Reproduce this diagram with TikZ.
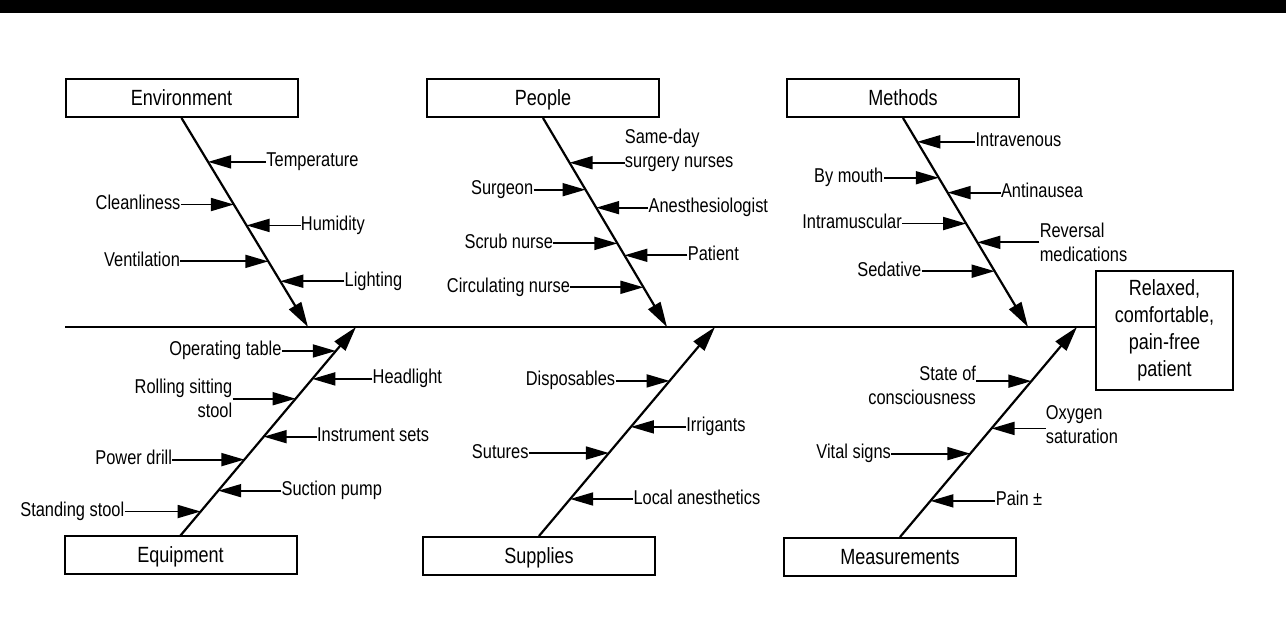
\documentclass[tikz,border=0pt]{standalone}
\usepackage{fontspec}
\setmainfont{Liberation Sans}[FakeStretch=0.82]
\usetikzlibrary{arrows.meta,calc,positioning}

\begin{document}
\begin{tikzpicture}[x=0.5pt,y=-0.5pt,
  every node/.style={font=\fontsize{10}{12}\selectfont},
  cat/.style={draw,line width=1pt,minimum width=116pt,minimum height=19pt,inner sep=0pt,text height=8pt,text depth=0.5pt,font=\fontsize{11}{13.5}\selectfont},
  cause/.style={inner sep=0pt,text height=7pt,text depth=2pt},
  cause2/.style={inner sep=0pt},
  bone/.style={line width=1.1pt,-{Triangle[length=12.5pt,width=7pt]}},
  feed/.style={line width=0.9pt,-{Triangle[length=11.5pt,width=6.5pt]}}]
  \useasboundingbox (0,0) rectangle (1286,630);
  \fill (0,0) rectangle (1286,13);

  \node[cat] (env) at (181.5,98) {Environment};
  \node[cat] (ppl) at (543,98) {People};
  \node[cat] (mth) at (903,98) {Methods};
  \node[cat] (eqp) at (180.5,555.5) {Equipment};
  \node[cat] (sup) at (539,556) {Supplies};
  \node[cat] (msr) at (900,557) {Measurements};
  \node[draw,line width=1pt,minimum width=68.5pt,minimum height=59.5pt,inner sep=0pt,align=center,font=\fontsize{11}{13.5}\selectfont] (goal) at (1164.5,330.5) {Relaxed,\\comfortable,\\pain-free\\patient};

  \coordinate (tail) at (65,327);
  \draw[line width=1.1pt] (tail) -- (tail -| goal.west);

  \coordinate (envEnd) at (308,327);
  \coordinate (pplEnd) at (667,327);
  \coordinate (mthEnd) at (1028,327);
  \coordinate (eqpEnd) at (356,327);
  \coordinate (supEnd) at (715,327);
  \coordinate (msrEnd) at (1077,327);
  \draw[bone] (env.south) -- (envEnd);
  \draw[bone] (ppl.south) -- (pplEnd);
  \draw[bone] (mth.south) -- (mthEnd);
  \draw[bone] (eqp.north) -- (eqpEnd);
  \draw[bone] (sup.north) -- (supEnd);
  \draw[bone] (msr.north) -- (msrEnd);

  \coordinate (e1) at ($(env.south)!0.21!(envEnd)$);
  \coordinate (e2) at ($(env.south)!0.414!(envEnd)$);
  \coordinate (e3) at ($(env.south)!0.514!(envEnd)$);
  \coordinate (e4) at ($(env.south)!0.686!(envEnd)$);
  \coordinate (e5) at ($(env.south)!0.781!(envEnd)$);
  \node[cause,right=29pt of e1] (temp) {Temperature};
  \node[cause,left=26.5pt of e2] (clean) {Cleanliness};
  \node[cause,right=27pt of e3] (humid) {Humidity};
  \node[cause,left=44pt of e4] (vent) {Ventilation};
  \node[cause,right=32pt of e5] (light) {Lighting};
  \draw[feed] (temp) -- (e1);
  \draw[feed] (clean) -- (e2);
  \draw[feed] (humid) -- (e3);
  \draw[feed] (vent) -- (e4);
  \draw[feed] (light) -- (e5);

  \coordinate (p1) at ($(ppl.south)!0.214!(pplEnd)$);
  \coordinate (p2) at ($(ppl.south)!0.343!(pplEnd)$);
  \coordinate (p3) at ($(ppl.south)!0.429!(pplEnd)$);
  \coordinate (p4) at ($(ppl.south)!0.6!(pplEnd)$);
  \coordinate (p5) at ($(ppl.south)!0.657!(pplEnd)$);
  \coordinate (p6) at ($(ppl.south)!0.81!(pplEnd)$);
  \node[cause2,align=left,right=27.5pt of p1,yshift=6pt] (sameday) {Same-day\\surgery nurses};
  \node[cause,left=26pt of p2] (surg) {Surgeon};
  \node[cause,right=26pt of p3] (anest) {Anesthesiologist};
  \node[cause,left=32pt of p4] (scrub) {Scrub nurse};
  \node[cause,right=31.5pt of p5] (pat) {Patient};
  \node[cause,left=36.5pt of p6] (circ) {Circulating nurse};
  \draw[feed] (p1 -| sameday.west) -- (p1);
  \draw[feed] (surg) -- (p2);
  \draw[feed] (anest) -- (p3);
  \draw[feed] (scrub) -- (p4);
  \draw[feed] (pat) -- (p5);
  \draw[feed] (circ) -- (p6);

  \coordinate (m1) at ($(mth.south)!0.114!(mthEnd)$);
  \coordinate (m2) at ($(mth.south)!0.286!(mthEnd)$);
  \coordinate (m3) at ($(mth.south)!0.357!(mthEnd)$);
  \coordinate (m4) at ($(mth.south)!0.505!(mthEnd)$);
  \coordinate (m5) at ($(mth.south)!0.595!(mthEnd)$);
  \coordinate (m6) at ($(mth.south)!0.733!(mthEnd)$);
  \node[cause,right=29pt of m1] (iv) {Intravenous};
  \node[cause,left=27.5pt of m2] (oral) {By mouth};
  \node[cause,right=26.5pt of m3] (antin) {Antinausea};
  \node[cause,left=32pt of m4] (im) {Intramuscular};
  \node[cause2,align=left,right=31pt of m5] (revers) {Reversal\\medications};
  \node[cause,left=36.5pt of m6] (sedat) {Sedative};
  \draw[feed] (iv) -- (m1);
  \draw[feed] (oral) -- (m2);
  \draw[feed] (antin) -- (m3);
  \draw[feed] (im) -- (m4);
  \draw[feed] (m5 -| revers.west) -- (m5);
  \draw[feed] (sedat) -- (m6);

  \coordinate (q1) at ($(eqp.north)!0.885!(eqpEnd)$);
  \coordinate (q2) at ($(eqp.north)!0.751!(eqpEnd)$);
  \coordinate (q3) at ($(eqp.north)!0.656!(eqpEnd)$);
  \coordinate (q4) at ($(eqp.north)!0.474!(eqpEnd)$);
  \coordinate (q5) at ($(eqp.north)!0.364!(eqpEnd)$);
  \coordinate (q6) at ($(eqp.north)!0.215!(eqpEnd)$);
  \coordinate (q7) at ($(eqp.north)!0.115!(eqpEnd)$);
  \node[cause,left=27pt of q1] (optab) {Operating table};
  \node[cause,right=30pt of q2] (headl) {Headlight};
  \node[cause2,align=right,left=31.5pt of q3] (rstool) {Rolling sitting\\stool};
  \node[cause,right=26.5pt of q4] (instr) {Instrument sets};
  \node[cause,left=36pt of q5] (drill) {Power drill};
  \node[cause,right=31.5pt of q6] (suct) {Suction pump};
  \node[cause,left=38pt of q7] (sstool) {Standing stool};
  \draw[feed] (optab) -- (q1);
  \draw[feed] (headl) -- (q2);
  \draw[feed] (q3 -| rstool.east) -- (q3);
  \draw[feed] (instr) -- (q4);
  \draw[feed] (drill) -- (q5);
  \draw[feed] (suct) -- (q6);
  \draw[feed] (sstool) -- (q7);

  \coordinate (s1) at ($(sup.north)!0.742!(supEnd)$);
  \coordinate (s2) at ($(sup.north)!0.522!(supEnd)$);
  \coordinate (s3) at ($(sup.north)!0.397!(supEnd)$);
  \coordinate (s4) at ($(sup.north)!0.177!(supEnd)$);
  \node[cause,left=27pt of s1] (dispo) {Disposables};
  \node[cause,right=27.5pt of s2] (irrig) {Irrigants};
  \node[cause,left=40pt of s3] (sutur) {Sutures};
  \node[cause,right=31.5pt of s4] (local) {Local anesthetics};
  \draw[feed] (dispo) -- (s1);
  \draw[feed] (irrig) -- (s2);
  \draw[feed] (sutur) -- (s3);
  \draw[feed] (local) -- (s4);

  \coordinate (r1) at ($(msr.north)!0.742!(msrEnd)$);
  \coordinate (r2) at ($(msr.north)!0.517!(msrEnd)$);
  \coordinate (r3) at ($(msr.north)!0.397!(msrEnd)$);
  \coordinate (r4) at ($(msr.north)!0.172!(msrEnd)$);
  \node[cause2,align=right,left=27.5pt of r1,yshift=-2.25pt] (consc) {State of\\consciousness};
  \node[cause2,align=left,right=27pt of r2,yshift=1.75pt] (oxy) {Oxygen\\saturation};
  \node[cause,left=39.5pt of r3] (vital) {Vital signs};
  \node[cause,right=32.5pt of r4] (pain) {Pain ±};
  \draw[feed] (r1 -| consc.east) -- (r1);
  \draw[feed] (r2 -| oxy.west) -- (r2);
  \draw[feed] (vital) -- (r3);
  \draw[feed] (pain) -- (r4);
\end{tikzpicture}
\end{document}
